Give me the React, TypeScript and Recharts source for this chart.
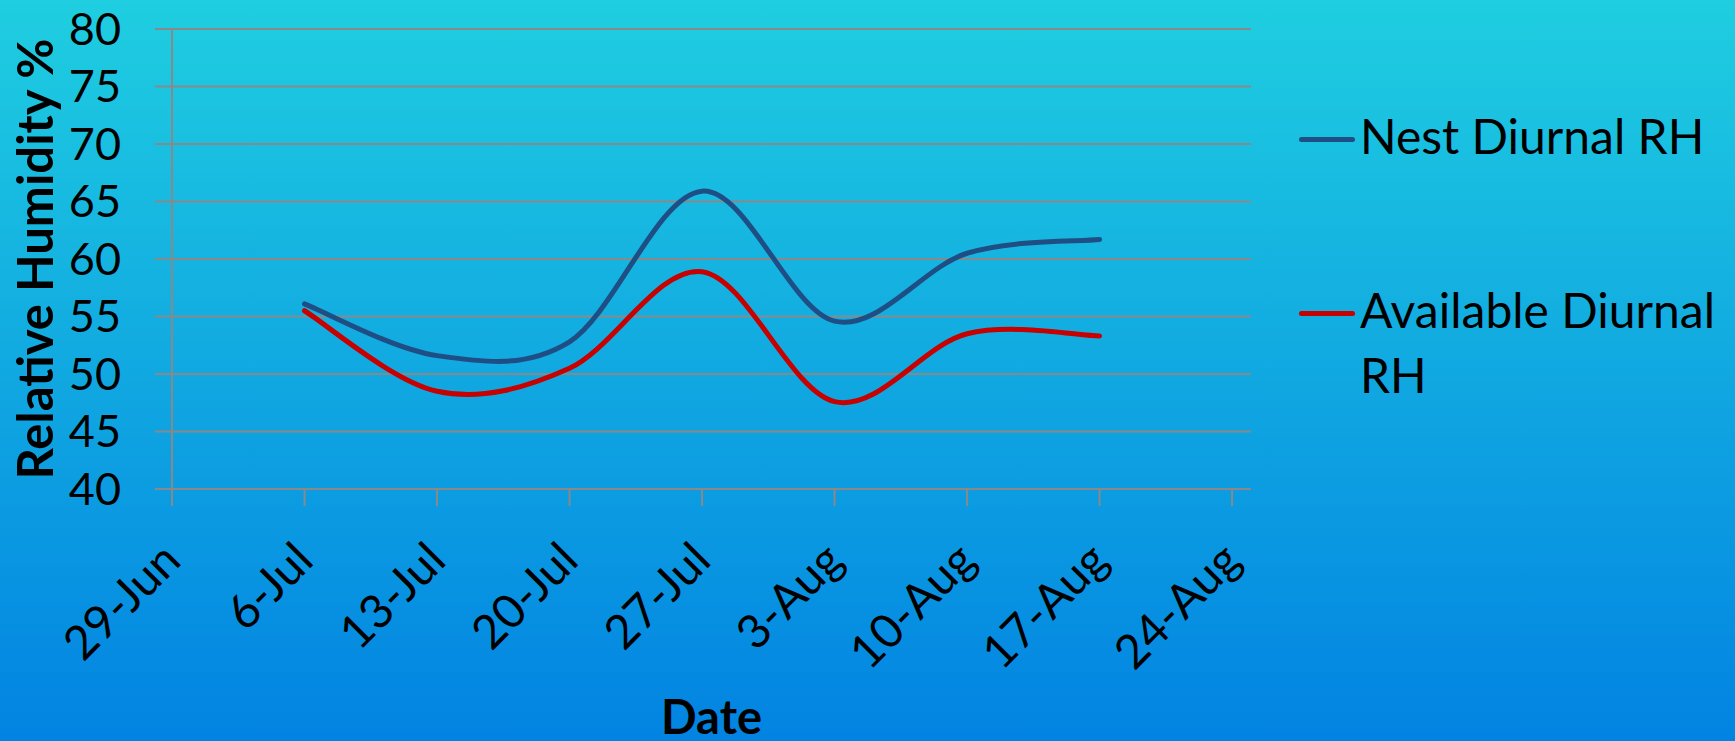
import React from 'react';
import { LineChart, Line, XAxis, YAxis, CartesianGrid, Legend } from 'recharts';

// Days since 29-Jun
const tickDays = [0, 7, 14, 21, 28, 35, 42, 49, 56];
const tickLabels = ['29-Jun', '6-Jul', '13-Jul', '20-Jul', '27-Jul', '3-Aug', '10-Aug', '17-Aug', '24-Aug'];
const dataDays = [7, 14, 21, 28, 35, 42, 49];
const nestRH = [56.1, 51.6, 52.8, 65.9, 54.6, 60.5, 61.7];
const availRH = [55.5, 48.5, 50.5, 58.9, 47.6, 53.5, 53.3];
const yTicks = [40, 45, 50, 55, 60, 65, 70, 75, 80];
const seriesNames = ['Nest Diurnal RH', 'Available Diurnal RH'];
const seriesColors = ['#1F4E85', '#C70000'];

const data = dataDays.map((d, i) => ({ day: d, nest: nestRH[i], avail: availRH[i] }));

const FONT = 'Lato, "Open Sans", sans-serif';
const GRID = '#898989';

// Catmull-Rom style smoothing (like Excel's smoothed line)
function smoothCurve(context: any) {
  let pts: number[][] = [];
  return {
    areaStart() {},
    areaEnd() {},
    lineStart() {
      pts = [];
    },
    lineEnd() {
      if (!pts.length) return;
      context.moveTo(pts[0][0], pts[0][1]);
      for (let i = 0; i < pts.length - 1; i++) {
        const p0 = pts[i - 1] || pts[i];
        const p1 = pts[i];
        const p2 = pts[i + 1];
        const p3 = pts[i + 2] || p2;
        context.bezierCurveTo(
          p1[0] + (p2[0] - p0[0]) / 6,
          p1[1] + (p2[1] - p0[1]) / 6,
          p2[0] - (p3[0] - p1[0]) / 6,
          p2[1] - (p3[1] - p1[1]) / 6,
          p2[0],
          p2[1]
        );
      }
    },
    point(x: number, y: number) {
      pts.push([+x, +y]);
    },
  };
}

const XTick = (props: any) => {
  const { x, y, payload } = props;
  const idx = tickDays.indexOf(payload.value);
  const ax = x + 11;
  const ay = y + 57;
  return (
    <text
      x={ax}
      y={ay}
      transform={`rotate(-45 ${ax} ${ay})`}
      textAnchor="end"
      fontSize={47}
      fontFamily={FONT}
      fill="#000"
    >
      {idx >= 0 ? tickLabels[idx] : ''}
    </text>
  );
};

const renderLegend = () => (
  <div style={{ fontFamily: FONT, color: '#000' }}>
    {seriesNames.map((name, i) => (
      <div key={name} style={{ display: 'flex', alignItems: 'flex-start', marginBottom: i === 0 ? 109 : 0 }}>
        <div
          style={{
            width: 56,
            height: 5,
            borderRadius: 3,
            background: seriesColors[i],
            marginTop: 33.5,
            flex: '0 0 auto',
          }}
        />
        <div style={{ marginLeft: 5, width: 372, fontSize: 48, lineHeight: '65px', whiteSpace: 'normal' }}>{name}</div>
      </div>
    ))}
  </div>
);

export default function App() {
  return (
    <div
      style={{
        position: 'absolute',
        left: 0,
        top: 0,
        width: 1735,
        height: 741,
        background: 'linear-gradient(to bottom, #1FCEE0 0%, #0283E2 100%)',
        overflow: 'hidden',
      }}
    >
      <LineChart width={1735} height={741} data={data} margin={{ top: 29, right: 484, bottom: 192, left: 92 }}>
        <CartesianGrid horizontal vertical={false} stroke={GRID} strokeWidth={2} />
        <XAxis
          dataKey="day"
          type="number"
          domain={[0, 57]}
          ticks={tickDays}
          interval={0}
          height={60}
          tickSize={17}
          tickMargin={0}
          axisLine={{ stroke: GRID, strokeWidth: 2 }}
          tickLine={{ stroke: GRID, strokeWidth: 2 }}
          tick={<XTick />}
          label={{
            content: (p: any) => {
              const vb = p.viewBox;
              return (
                <text
                  x={vb.x + vb.width / 2}
                  y={vb.y + 245}
                  textAnchor="middle"
                  fontSize={47}
                  fontWeight="bold"
                  fontFamily={FONT}
                  fill="#000"
                >
                  Date
                </text>
              );
            },
          }}
        />
        <YAxis
          type="number"
          domain={[40, 80]}
          ticks={yTicks}
          interval={0}
          width={80}
          tickSize={17}
          tickMargin={34}
          axisLine={{ stroke: GRID, strokeWidth: 2 }}
          tickLine={{ stroke: GRID, strokeWidth: 2 }}
          tick={{ fontSize: 45, fill: '#000', fontFamily: FONT }}
          label={{
            content: (p: any) => {
              const vb = p.viewBox;
              const lx = vb.x - 39;
              const ly = vb.y + vb.height / 2;
              return (
                <text
                  x={lx}
                  y={ly}
                  transform={`rotate(-90 ${lx} ${ly})`}
                  textAnchor="middle"
                  fontSize={49}
                  fontWeight="bold"
                  fontFamily={FONT}
                  fill="#000"
                >
                  Relative Humidity %
                </text>
              );
            },
          }}
        />
        <Legend
          layout="vertical"
          align="center"
          verticalAlign="middle"
          content={renderLegend}
          wrapperStyle={{ left: 1299, top: 103, width: 436, height: 'auto' }}
        />
        <Line
          dataKey="nest"
          name={seriesNames[0]}
          type={smoothCurve as any}
          stroke={seriesColors[0]}
          strokeWidth={5}
          strokeLinecap="round"
          dot={false}
          activeDot={false}
          isAnimationActive={false}
        />
        <Line
          dataKey="avail"
          name={seriesNames[1]}
          type={smoothCurve as any}
          stroke={seriesColors[1]}
          strokeWidth={5}
          strokeLinecap="round"
          dot={false}
          activeDot={false}
          isAnimationActive={false}
        />
      </LineChart>
    </div>
  );
}
